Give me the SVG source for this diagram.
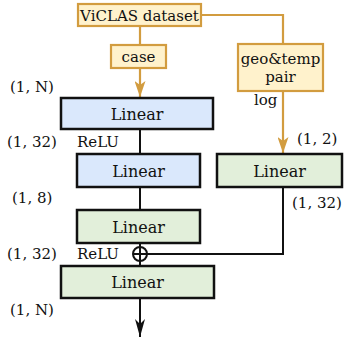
<svg xmlns="http://www.w3.org/2000/svg" width="344" height="341" viewBox="0 0 344 341">
<style>
text{font-family:"DejaVu Serif","Liberation Serif",serif;font-size:15px;fill:#111}
.t{text-anchor:middle}
.L{font-size:16px}
.src{fill:#fff2cc;stroke:#d29c3f;stroke-width:2.2}
.blue{fill:#dae8fc;stroke:#111;stroke-width:2.5}
.green{fill:#e2efda;stroke:#111;stroke-width:2.5}
.gl{fill:none;stroke:#d29c3f;stroke-width:2.2}
.bl{fill:none;stroke:#111;stroke-width:2}
</style>
<defs>
<marker id="ag" viewBox="0 0 16 11" refX="16" refY="5.5" markerWidth="16" markerHeight="11" markerUnits="userSpaceOnUse" orient="auto"><path d="M0,0L16,5.5L0,11L4,5.5z" fill="#d29c3f"/></marker>
<marker id="ab" viewBox="0 0 18 10" refX="18" refY="5" markerWidth="18" markerHeight="10" markerUnits="userSpaceOnUse" orient="auto"><path d="M0,0L18,5L0,10L5,5z" fill="#111"/></marker>
</defs>
<g id="connectors">
<path class="gl" d="M140,26V45"/>
<path class="gl" d="M140,68V97" marker-end="url(#ag)"/>
<path class="gl" d="M201,15H283V44"/>
<path class="gl" d="M283,91V153" marker-end="url(#ag)"/>
<path class="bl" d="M140,129V154"/>
<path class="bl" d="M140,187V210"/>
<path class="bl" d="M140,243V266"/>
<path class="bl" d="M283,187V254H147"/>
<path class="bl" d="M140,298V337" marker-end="url(#ab)"/>
</g>
<g id="viclas"><rect class="src" x="78" y="4" width="123" height="22"/><text class="t" x="139.5" y="21">ViCLAS dataset</text></g>
<g id="case"><rect class="src" x="111" y="45" width="55" height="23"/><text class="t" x="138.5" y="62">case</text></g>
<g id="geotemp"><rect class="src" x="238" y="44" width="85" height="47"/><text class="t" x="280.5" y="64">geo&amp;temp</text><text class="t" x="280.5" y="82">pair</text></g>
<g id="linear1"><rect class="blue" x="61" y="98" width="152" height="31"/><text class="t L" x="137" y="120">Linear</text></g>
<g id="linear2"><rect class="blue" x="77" y="154" width="123" height="33"/><text class="t L" x="138.5" y="177">Linear</text></g>
<g id="linear3"><rect class="green" x="77" y="210" width="123" height="33"/><text class="t L" x="138.5" y="233">Linear</text></g>
<g id="linearR"><rect class="green" x="217" y="154" width="125" height="33"/><text class="t L" x="279.5" y="177">Linear</text></g>
<g id="linear4"><rect class="green" x="61" y="266" width="153" height="32"/><text class="t L" x="137.5" y="288">Linear</text></g>
<g id="plus"><circle cx="140" cy="254" r="7" fill="none" stroke="#111" stroke-width="2"/><path class="bl" d="M133,254H147M140,247V261"/></g>
<g id="labels">
<text x="10" y="92">(1, N)</text>
<text x="7" y="147">(1, 32)</text>
<text x="77" y="147">ReLU</text>
<text x="12" y="203">(1, 8)</text>
<text x="7" y="259">(1, 32)</text>
<text x="77" y="259">ReLU</text>
<text x="10" y="315">(1, N)</text>
<text x="254" y="105">log</text>
<text x="297" y="144">(1, 2)</text>
<text x="292" y="208">(1, 32)</text>
</g>
</svg>
